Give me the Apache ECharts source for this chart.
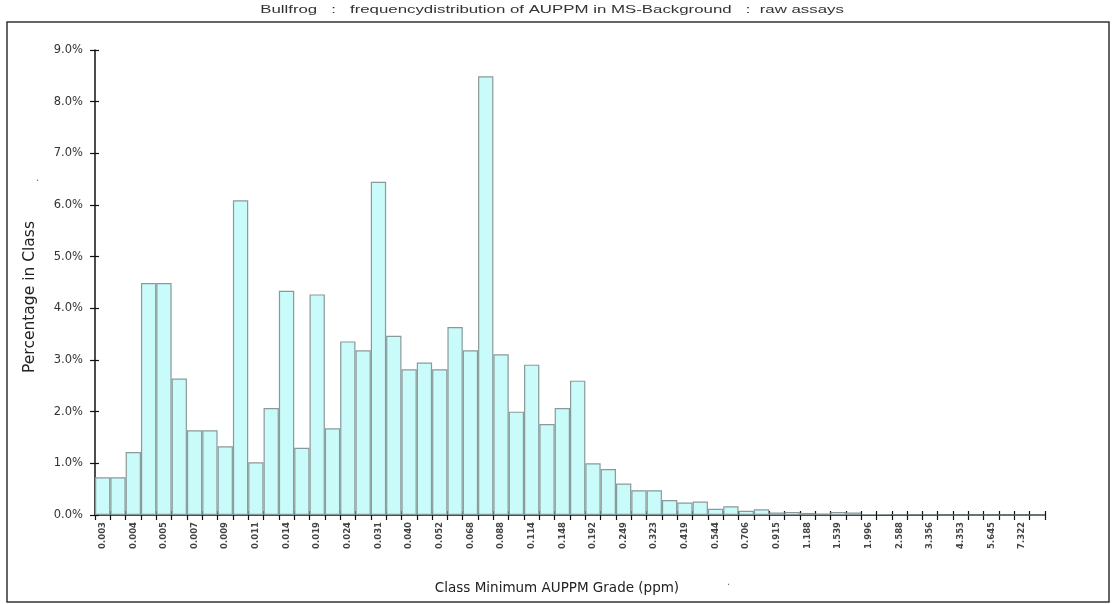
<!DOCTYPE html>
<html>
<head>
<meta charset="utf-8">
<script src="https://cdn.jsdelivr.net/npm/echarts@6/dist/echarts.min.js"></script>
<style>
html,body{margin:0;padding:0;background:#fff;}
#chart{width:1112px;height:604px;}
</style>
</head>
<body>
<div id="chart"></div>
<script>
// Class minimum AUPPM grades (ppm); every other class is labelled on the axis
const classMins = [
  '0.003','0.0034','0.004','0.0044','0.005','0.0058','0.007','0.0075','0.009','0.0098',
  '0.011','0.0127','0.014','0.0165','0.019','0.0214','0.024','0.0277','0.031','0.0359',
  '0.040','0.0466','0.052','0.0604','0.068','0.0783','0.088','0.1015','0.114','0.1316',
  '0.148','0.1706','0.192','0.2212','0.249','0.2868','0.323','0.3719','0.419','0.4822',
  '0.544','0.6252','0.706','0.8106','0.915','1.0511','1.188','1.3628','1.539','1.7670',
  '1.996','2.2911','2.588','2.9706','3.356','3.8517','4.353','4.9941','5.645','6.4753',
  '7.322','8.3958'
];
// Percentage of samples in each class
const pctInClass = [
  0.73,0.73,1.22,4.49,4.49,2.64,1.64,1.64,1.33,6.09,
  1.02,2.07,4.34,1.30,4.27,1.68,3.36,3.19,6.45,3.47,
  2.82,2.95,2.82,3.64,3.19,8.49,3.11,2.00,2.91,1.76,
  2.07,2.60,1.00,0.89,0.61,0.48,0.48,0.29,0.24,0.26,
  0.12,0.17,0.08,0.11,0.05,0.06,0.04,0.03,0.06,0.05,
  0.02,0.02,0.01,0.01,0.01,0,0,0,0,0,
  0,0
];
const yTicks = [0,1,2,3,4,5,6,7,8,9];
const titleText = 'Bullfrog   :   frequencydistribution of AUPPM in MS-Background   :  raw assays';

const chart = echarts.init(document.getElementById('chart'), null, {renderer:'canvas'});
const FONT = '"DejaVu Sans", Verdana, sans-serif';
const TFONT = '"Liberation Sans", Arial, sans-serif';
const axisLine = {show:true, lineStyle:{color:'#111', width:1.5}};
const gridPos = {left:95, right:67, top:50, bottom:89};

const option = {
  animation:false,
  backgroundColor:'#fff',
  graphic:[
    {type:'rect', shape:{x:7, y:22, width:1102, height:580}, style:{fill:'none', stroke:'#333', lineWidth:1.5}, z:-1},
    {type:'text', x:552, y:10, scaleX:1.53,
      style:{text:titleText, fontSize:11, fill:'#333', fontFamily:TFONT, align:'center', verticalAlign:'middle'}},
    {type:'text', x:30, y:297, rotation:Math.PI/2,
      style:{text:'Percentage in Class', fontSize:15.5, fill:'#222', fontFamily:FONT, align:'center', verticalAlign:'middle'}},
    {type:'text', left:36, top:173, style:{text:'.', fontSize:10, fill:'#666', fontFamily:FONT}},
    {type:'text', left:727, top:577, style:{text:'.', fontSize:10, fill:'#666', fontFamily:FONT}}
  ],
  grid:[gridPos],
  xAxis:[{
    type:'category', data:classMins, boundaryGap:true,
    axisLine:axisLine,
    axisTick:{show:true, interval:0, length:5, inside:false, lineStyle:{color:'#111', width:1.2}},
    axisLabel:{interval:1, rotate:90, fontSize:8.5, fontWeight:'bold', color:'#444', fontFamily:FONT, margin:7},
    name:'Class Minimum AUPPM Grade (ppm)', nameLocation:'middle', nameGap:66,
    nameTextStyle:{fontFamily:FONT, fontSize:13.5, color:'#222', padding:[0,26,0,0]}
  },{
    type:'category', data:classMins, boundaryGap:true, position:'bottom',
    axisLine:{show:false},
    axisTick:{show:true, interval:0, length:4, inside:true, lineStyle:{color:'#111', width:1.2}},
    axisLabel:{show:false}
  }],
  yAxis:[{
    type:'value', min:0, max:9, interval:1,
    axisLine:axisLine,
    axisTick:{show:true, length:5, lineStyle:{color:'#111', width:1.2}},
    splitLine:{show:false},
    axisLabel:{formatter:v=>v.toFixed(1)+'%', fontSize:11.5, color:'#333', fontFamily:FONT, margin:12}
  },{
    type:'value', min:0, max:9, interval:1, position:'left',
    axisLine:{show:false},
    axisTick:{show:true, length:4, inside:true, lineStyle:{color:'#111', width:1.2}},
    splitLine:{show:false}, axisLabel:{show:false}
  }],
  series:[{
    type:'bar', data:pctInClass, xAxisIndex:0, yAxisIndex:0,
    barCategoryGap:'0%',
    itemStyle:{color:'#c9fbfb', borderColor:'#8a9999', borderWidth:1.2}
  }]
};
chart.setOption(option);
</script>
</body>
</html>
